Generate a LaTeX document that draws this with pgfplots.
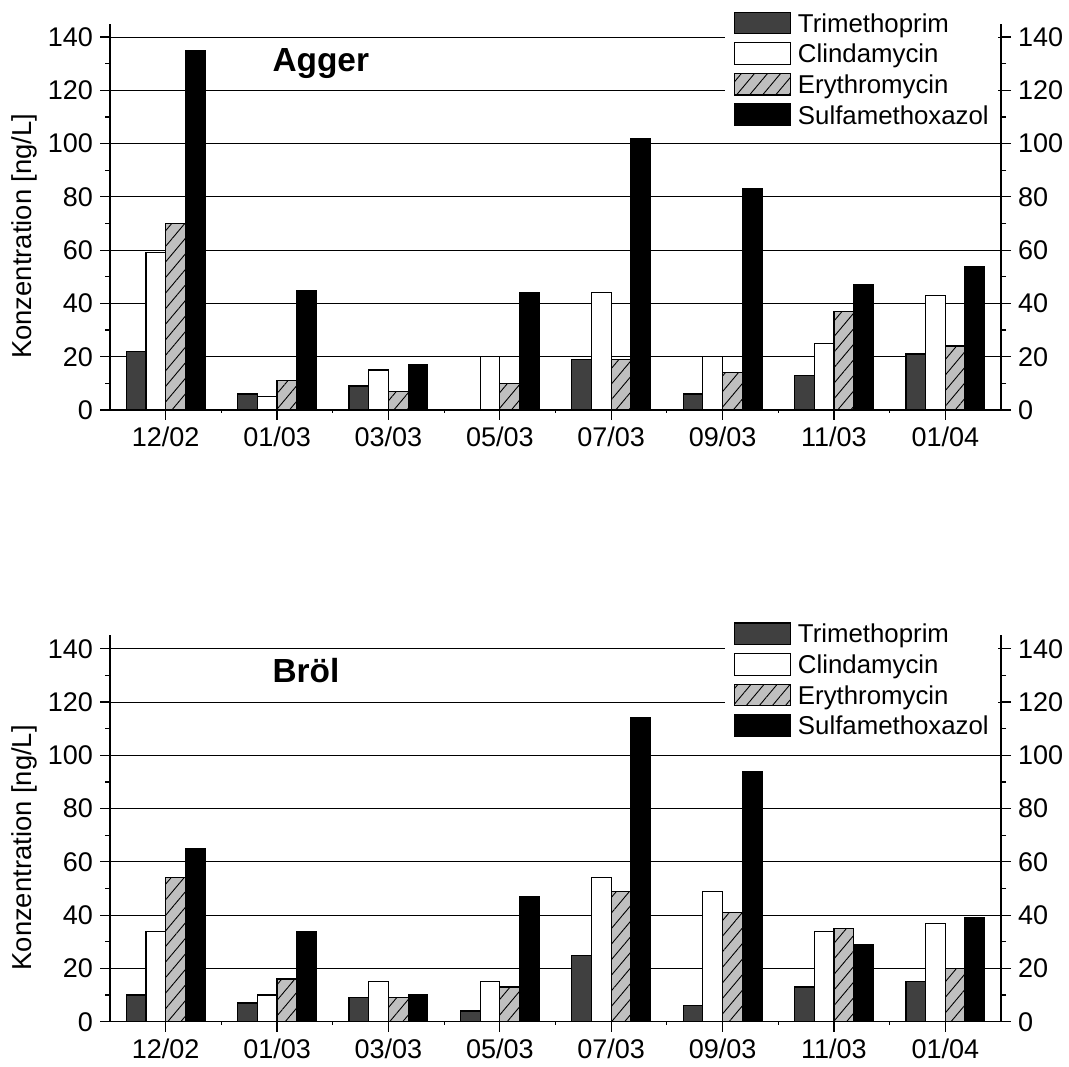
\documentclass[border=0pt]{standalone}
\usepackage{pgfplots}
\pgfplotsset{compat=1.18}
\usepackage{pgfplotstable}
\usepackage{fontspec}
\setmainfont{Liberation Sans}
\usetikzlibrary{patterns.meta}

\pgfplotstableread{
x tri cli ery sul
0 22 59 70 135
1 6 5 11 45
2 9 15 7 17
3 0 20 10 44
4 19 44 19 102
5 6 20 14 83
6 13 25 37 47
7 21 43 24 54
}\agger

\pgfplotstableread{
x tri cli ery sul
0 10 34 54 65
1 7 10 16 34
2 9 15 9 10
3 4 15 13 47
4 25 54 49 114
5 6 49 41 94
6 13 34 35 29
7 15 37 20 39
}\broel

\pgfplotsset{
  common/.style={
    scale only axis, width=445.5pt, height=193.15pt,
    xmin=-0.5, xmax=7.5, ymin=0, ymax=145,
    tick align=outside,
    ytick={0,20,...,140}, minor ytick={10,30,...,130},
    major tick length=5pt, minor tick length=2.5pt,
    axis line style={line width=0.6pt},
    every tick/.style={black,line width=0.6pt},
    every minor tick/.style={black,line width=0.6pt},
    ticklabel style={font=\fontsize{13.5}{16}\selectfont},
    /pgf/number format/assume math mode=true,
  },
  panel/.style={
    common,
    axis lines*=left,
    xtick={0,...,7},
    xticklabels={12/02,01/03,03/03,05/03,07/03,09/03,11/03,01/04},
    extra x ticks={0.5,1.5,...,6.5}, extra x tick labels={},
    extra x tick style={major tick length=1.5pt, grid=none},
    ymajorgrids, major grid style={black,line width=0.5pt},
    ylabel={Konzentration [ng/L]},
    ylabel style={font=\fontsize{13.7}{16}\selectfont, at={(axis description cs:-0.0957,0.45)}, anchor=center},
    ybar=0pt, bar width=9.85pt,
    legend image code/.code={\draw[##1] (0pt,-4.5pt) rectangle (28pt,6.3pt);},
    legend cell align=left,
    legend style={draw=none, fill=white, inner sep=4.5pt, outer sep=0pt,
      font=\fontsize{12.9}{15}\selectfont, row sep=2.4pt, column sep=3.5pt,
      nodes={inner sep=0pt, text height=10pt, text depth=2.6pt},
      anchor=north west},
  },
  rightside/.style={
    common,
    axis x line=none, axis y line*=right,
  },
  tri/.style={fill=black!75, draw=black, line width=0.6pt},
  cli/.style={fill=white, draw=black, line width=0.6pt},
  ery/.style={fill=black!25, draw=black, line width=0.6pt, postaction={pattern={Lines[angle=50,distance=5pt,line width=0.45pt]}}},
  sul/.style={fill=black, draw=black, line width=0.6pt},
}

\begin{document}
\begin{tikzpicture}
\useasboundingbox (0,0) rectangle (534.5pt,533pt);
% ---------- top panel: Agger ----------
\begin{axis}[panel, at={(55pt,328pt)}, anchor=south west,
  legend style={at={(axis description cs:0.690,1.0544)}}]
\addplot[tri] table[x=x,y=tri] {\agger};
\addplot[cli] table[x=x,y=cli] {\agger};
\addplot[ery] table[x=x,y=ery] {\agger};
\addplot[sul] table[x=x,y=sul] {\agger};
\legend{Trimethoprim,Clindamycin,Erythromycin,Sulfamethoxazol}
\node[font=\bfseries\fontsize{16.7}{20}\selectfont, anchor=base west, inner sep=0pt] at (axis cs:0.956,127) {Agger};
\end{axis}
\begin{axis}[rightside, at={(55pt,328pt)}, anchor=south west]
\end{axis}
% ---------- bottom panel: Broel ----------
\begin{axis}[panel, at={(55pt,22.15pt)}, anchor=south west,
  legend style={at={(axis description cs:0.690,1.057)}}]
\addplot[tri] table[x=x,y=tri] {\broel};
\addplot[cli] table[x=x,y=cli] {\broel};
\addplot[ery] table[x=x,y=ery] {\broel};
\addplot[sul] table[x=x,y=sul] {\broel};
\legend{Trimethoprim,Clindamycin,Erythromycin,Sulfamethoxazol}
\node[font=\bfseries\fontsize{16.7}{20}\selectfont, anchor=base west, inner sep=0pt] at (axis cs:0.956,127.3) {Bröl};
\end{axis}
\begin{axis}[rightside, at={(55pt,22.15pt)}, anchor=south west]
\end{axis}
\end{tikzpicture}
\end{document}
